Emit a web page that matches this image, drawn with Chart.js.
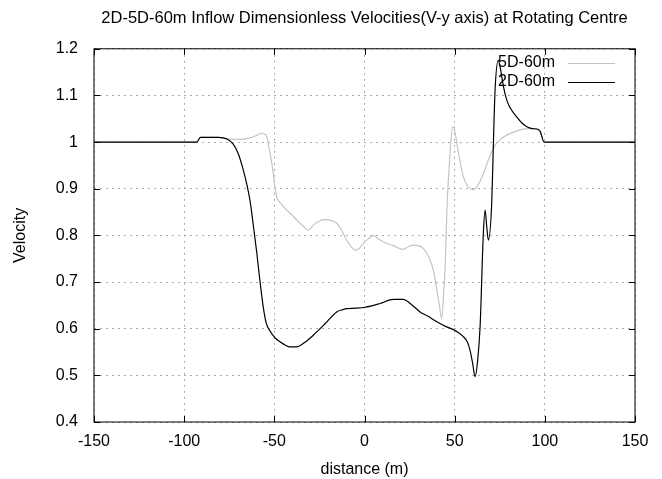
<!DOCTYPE html>
<html>
<head>
<meta charset="utf-8">
<script src="https://cdn.jsdelivr.net/npm/chart.js@4/dist/chart.umd.min.js"></script>
<style>
  html, body { margin: 0; padding: 0; background: #fff; }
  #wrap { width: 662px; height: 479px; }
</style>
</head>
<body>
<div id="wrap"><canvas id="chart" width="662" height="479"></canvas></div>
<script>
// values
const distance2D = [-150, -93, -91, -81, -76, -72.7, -70, -67.2, -65, -63.5, -61.6, -59.8, -57.9, -56.1, -54.5, -52.4, -49.5, -46.8, -44, -41.3, -37.6, -33, -28.4, -22, -15.4, -12, -9.9, -5, 0.3, 8.6, 16, 21.5, 26, 30.8, 35, 40.1, 45, 49.3, 52, 54.8, 57, 58.5, 60, 61.3, 62.6, 64.1, 65.9, 66.9, 67.8, 68.7, 70.6, 71.5, 72.4, 74.2, 75.2, 77, 78.9, 81, 84.4, 87, 90, 93, 96.4, 97.5, 99.6, 150];
const velocity2D = [1, 1, 1.01, 1.01, 1.006, 0.995, 0.975, 0.94, 0.905, 0.875, 0.82, 0.765, 0.70, 0.645, 0.612, 0.595, 0.58, 0.572, 0.565, 0.561, 0.561, 0.571, 0.586, 0.61, 0.636, 0.641, 0.643, 0.644, 0.646, 0.654, 0.663, 0.663, 0.652, 0.636, 0.627, 0.615, 0.605, 0.598, 0.592, 0.583, 0.572, 0.554, 0.525, 0.497, 0.526, 0.604, 0.804, 0.854, 0.818, 0.79, 0.875, 1.0, 1.111, 1.175, 1.161, 1.12, 1.09, 1.072, 1.054, 1.042, 1.033, 1.029, 1.027, 1.022, 1.0, 1];

const distance5D = [-150, -93, -91, -81, -76, -72.7, -68, -63.5, -60, -57, -55.5, -54.2, -52.8, -51.4, -48.7, -46, -43.2, -40, -37.6, -34, -31.2, -28.4, -25, -22, -18.5, -15.4, -12.5, -9.9, -7, -5.2, -3, -0.6, 2, 4.9, 7.5, 10.5, 16, 21.5, 24, 27.1, 31.7, 34, 36.4, 38.5, 40.1, 41.5, 42.8, 43.8, 44.7, 45.9, 46.5, 47.7, 48.9, 50, 51.2, 53, 54.8, 57, 60.4, 63, 65.9, 69, 72.4, 75.5, 78.9, 83, 88.1, 92, 96.4, 97.5, 99.6, 150];
const velocity5D = [1, 1, 1.01, 1.01, 1.007, 1.006, 1.006, 1.009, 1.014, 1.019, 1.017, 1.012, 0.985, 0.955, 0.883, 0.867, 0.854, 0.843, 0.833, 0.82, 0.811, 0.822, 0.831, 0.834, 0.832, 0.826, 0.81, 0.79, 0.774, 0.768, 0.772, 0.783, 0.792, 0.8, 0.793, 0.786, 0.778, 0.77, 0.775, 0.779, 0.775, 0.765, 0.747, 0.72, 0.683, 0.65, 0.622, 0.67, 0.733, 0.875, 0.918, 0.99, 1.033, 1.025, 0.998, 0.958, 0.926, 0.907, 0.898, 0.908, 0.932, 0.965, 0.993, 1.006, 1.015, 1.022, 1.028, 1.029, 1.027, 1.022, 1.0, 1];

const xTicks = [-150, -100, -50, 0, 50, 100, 150];
const yTicks = [0.4, 0.5, 0.6, 0.7, 0.8, 0.9, 1, 1.1, 1.2];

const FONT = "'Liberation Sans', Arial, sans-serif";
const toPoints = (xs, ys) => xs.map((x, i) => ({ x: x, y: ys[i] }));

// gnuplot style frame: box, mirrored inward ticks, legend text then sample
const framePlugin = {
    id: 'frame',
    afterDatasetsDraw(chart) {
        const { ctx, chartArea: a, scales } = chart;
        ctx.save();
        ctx.strokeStyle = '#000';
        ctx.lineWidth = 1;
        ctx.strokeRect(a.left, a.top, a.right - a.left, a.bottom - a.top);
        ctx.beginPath();
        xTicks.forEach(v => {
            const px = Math.round(scales.x.getPixelForValue(v)) + 0.5;
            ctx.moveTo(px, a.bottom); ctx.lineTo(px, a.bottom - 6);
            ctx.moveTo(px, a.top); ctx.lineTo(px, a.top + 6);
        });
        yTicks.forEach(v => {
            const py = Math.round(scales.y.getPixelForValue(v)) + 0.5;
            ctx.moveTo(a.left, py); ctx.lineTo(a.left + 6, py);
            ctx.moveTo(a.right, py); ctx.lineTo(a.right - 6, py);
        });
        ctx.stroke();

        // legend
        ctx.font = '16px ' + FONT;
        ctx.textAlign = 'right';
        ctx.textBaseline = 'middle';
        ctx.fillStyle = '#000';
        chart.data.datasets.slice().reverse().forEach((ds, i) => {
            const y = 63 + i * 19;
            ctx.fillText(ds.label, 555, y);
            ctx.strokeStyle = ds.borderColor;
            ctx.beginPath();
            ctx.moveTo(568, y + 0.5);
            ctx.lineTo(615, y + 0.5);
            ctx.stroke();
        });
        ctx.restore();
    }
};

new Chart(document.getElementById('chart'), {
    type: 'line',
    data: {
        datasets: [
            {
                label: '2D-60m',
                data: toPoints(distance2D, velocity2D),
                borderColor: '#000000',
                borderWidth: 1.2,
                pointRadius: 0,
                cubicInterpolationMode: 'monotone'
            },
            {
                label: '5D-60m',
                data: toPoints(distance5D, velocity5D),
                borderColor: '#c4c4c4',
                borderWidth: 1.2,
                pointRadius: 0,
                cubicInterpolationMode: 'monotone'
            }
        ]
    },
    options: {
        responsive: false,
        animation: false,
        events: [],
        layout: { padding: { left: 0, right: 27, top: 0, bottom: 0 } },
        plugins: {
            legend: { display: false },
            tooltip: { enabled: false },
            title: {
                display: true,
                fullSize: false,
                text: '2D-5D-60m Inflow Dimensionless Velocities(V-y axis) at Rotating Centre',
                color: '#000',
                font: { family: FONT, size: 16.5, weight: 'normal' },
                padding: { top: 9, bottom: 20 }
            }
        },
        scales: {
            x: {
                type: 'linear',
                min: -150,
                max: 150,
                afterBuildTicks: s => { s.ticks = xTicks.map(v => ({ value: v })); },
                afterFit: s => { s.height = 57; },
                ticks: { color: '#000', font: { family: FONT, size: 16 }, padding: 10, maxRotation: 0 },
                grid: { color: '#aaa', drawTicks: false },
                border: { display: false, dash: [2, 4] },
                title: { display: true, text: 'distance (m)', color: '#000', font: { family: FONT, size: 16 }, padding: { top: 0, bottom: 0 } }
            },
            y: {
                type: 'linear',
                min: 0.4,
                max: 1.2,
                afterBuildTicks: s => { s.ticks = yTicks.map(v => ({ value: v })); },
                afterFit: s => { s.width = 94; },
                ticks: { color: '#000', font: { family: FONT, size: 16 }, padding: 16, callback: v => String(Math.round(v * 10) / 10) },
                grid: { color: '#aaa', drawTicks: false },
                border: { display: false, dash: [2, 4] },
                title: { display: true, text: 'Velocity', color: '#000', font: { family: FONT, size: 16 }, padding: { top: 11, bottom: 0 } }
            }
        }
    },
    plugins: [framePlugin]
});
</script>
</body>
</html>
